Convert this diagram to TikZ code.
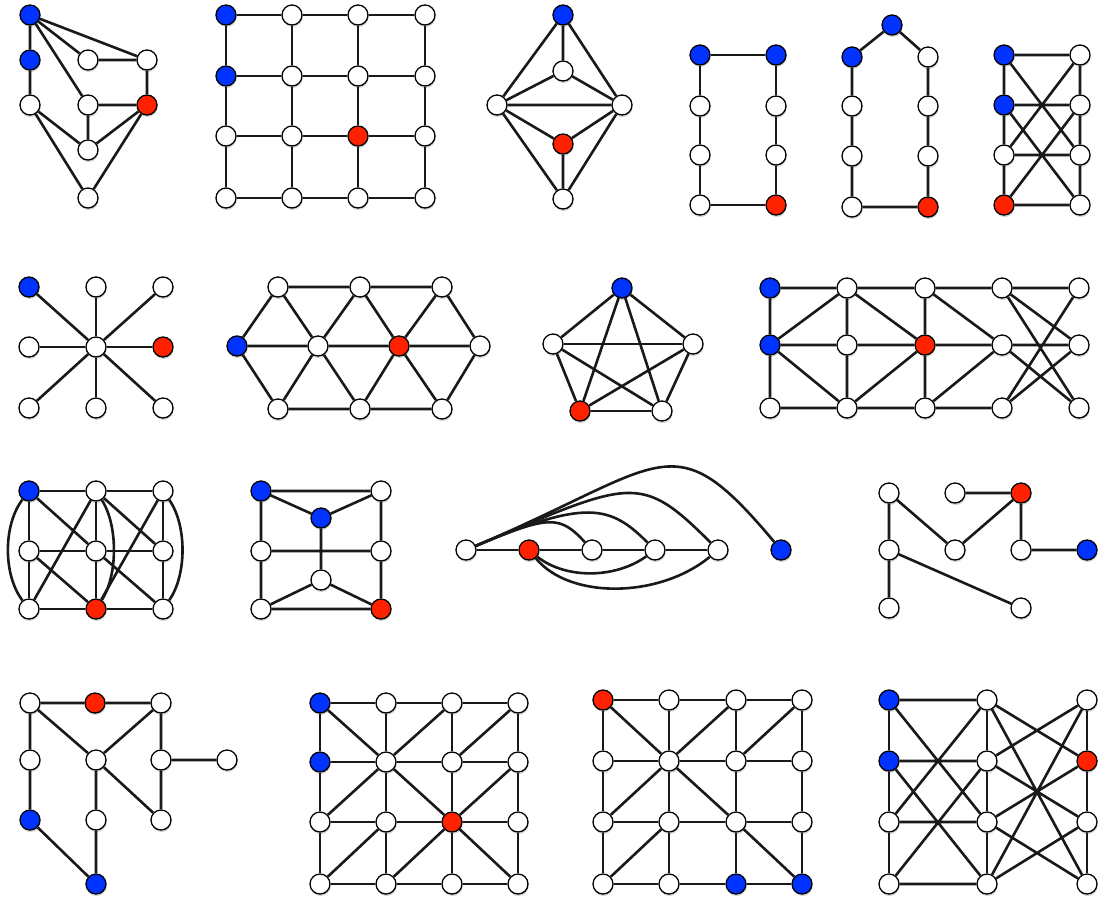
\documentclass[tikz,border=0pt]{standalone}
\usetikzlibrary{shadows}
\definecolor{vblue}{RGB}{0,51,255}
\definecolor{vred}{RGB}{255,34,0}

\begin{document}
\begin{tikzpicture}[
x=1pt,y=-1pt,
myvertex/.style={
  draw,
  circle,
  fill=white,
  line width=1.3pt,
  minimum size=20pt,
  inner sep=0pt,
  drop shadow={opacity=.35,shadow xshift=.6pt,shadow yshift=-2pt}},
myedge/.style={
  line width=2.6pt,
  black!90},
% coloured vertices of the grid-like graphs
b11/.style={fill=vblue},b12/.style={fill=vblue},b33/.style={fill=vred},
m11/.style={fill=vblue},m12/.style={fill=vblue},m32/.style={fill=vred},
n11/.style={fill=vblue},n23/.style={fill=vred},
t11/.style={fill=vblue},t12/.style={fill=vblue},t33/.style={fill=vred},
u11/.style={fill=vred},u34/.style={fill=vblue},u44/.style={fill=vblue},
v11/.style={fill=vblue},v12/.style={fill=vblue},v32/.style={fill=vred}
]
\useasboundingbox (0,0) rectangle (1102,897);

% first row
\foreach \n/\x/\y/\c in {1/30/15/vblue,2/30/60/vblue,3/30/105/white,
  4/88/60/white,5/88/105/white,6/147/60/white,7/147/105/vred,
  8/88/150/white,9/88/198/white}
  \node[myvertex,fill=\c] (a\n) at (\x,\y) {};
\draw[myedge] (a1) -- (a2) -- (a3) (a1) -- (a6) (a1) -- (a4) (a1) -- (a5)
  (a4) -- (a6) -- (a7) -- (a5) -- (a8) -- (a3) -- (a9) -- (a7) -- (a8);

\foreach \i/\x in {1/226,2/292,3/358,4/425}
  \foreach \j/\y in {1/15,2/76,3/136,4/198}
    \node[myvertex,b\i\j/.try] (b\i\j) at (\x,\y) {};
\foreach \i [evaluate=\i as \k using int(\i+1)] in {1,2,3}
  \foreach \j in {1,...,4}
    \draw[myedge] (b\i\j) -- (b\k\j) (b\j\i) -- (b\j\k);

\foreach \n/\x/\y/\c in {1/563/15/vblue,2/563/71/white,3/497/105/white,
  4/622/105/white,5/563/144/vred,6/563/199/white}
  \node[myvertex,fill=\c] (c\n) at (\x,\y) {};
\draw[myedge] (c1) -- (c2) (c1) -- (c3) -- (c4) -- (c1) (c2) -- (c3) -- (c5)
  -- (c4) -- (c2) (c5) -- (c6) -- (c3) (c4) -- (c6);

\foreach \n/\x/\y/\c in {1/700/55/vblue,2/700/106/white,3/700/155/white,
  4/700/205/white,5/776/205/vred,6/776/155/white,7/776/106/white,8/776/55/vblue}
  \node[myvertex,fill=\c] (d\n) at (\x,\y) {};
\draw[myedge] (d1) -- (d2) -- (d3) -- (d4) -- (d5) -- (d6) -- (d7) -- (d8) -- (d1);

\foreach \n/\x/\y/\c in {1/892/25/vblue,2/852/57/vblue,3/852/106/white,
  4/852/156/white,5/852/207/white,6/928/207/vred,7/928/156/white,
  8/928/106/white,9/928/57/white}
  \node[myvertex,fill=\c] (e\n) at (\x,\y) {};
\draw[myedge] (e1) -- (e2) -- (e3) -- (e4) -- (e5) -- (e6) -- (e7) -- (e8)
  -- (e9) -- (e1);

\foreach \n/\x/\y/\c in {1/1004/55/vblue,2/1004/105/vblue,3/1004/155/white,
  4/1004/205/vred,5/1080/55/white,6/1080/105/white,7/1080/155/white,
  8/1080/205/white}
  \node[myvertex,fill=\c] (f\n) at (\x,\y) {};
\draw[myedge] (f1) -- (f2) -- (f3) -- (f4) -- (f8) -- (f7) -- (f6) -- (f5)
  -- (f1) (f2) -- (f6) (f3) -- (f7) (f1) -- (f7) (f2) -- (f8) (f3) -- (f5)
  (f4) -- (f6);

% second row
\node[myvertex] (g0) at (96,347) {};
\foreach \n/\x/\y/\c in {1/29/287/vblue,2/96/287/white,3/163/287/white,
  4/29/347/white,5/163/347/vred,6/29/408/white,7/96/408/white,8/163/408/white}
  {\node[myvertex,fill=\c] (g\n) at (\x,\y) {};
   \draw[myedge] (g0) -- (g\n);}

\foreach \n/\x/\y/\c in {1/278/287/white,2/360/287/white,3/442/287/white,
  4/237/346/vblue,5/318/346/white,6/399/346/vred,7/480/346/white,
  8/278/409/white,9/360/409/white,10/442/409/white}
  \node[myvertex,fill=\c] (h\n) at (\x,\y) {};
\draw[myedge] (h1) -- (h2) -- (h3) -- (h7) -- (h10) -- (h9) -- (h8) -- (h4)
  -- (h1) (h4) -- (h5) -- (h6) -- (h7) (h1) -- (h5) -- (h2) -- (h6) -- (h3)
  (h8) -- (h5) -- (h9) -- (h6) -- (h10);

\foreach \n/\x/\y/\c in {1/622/288/vblue,2/693/344/white,3/662/411/white,
  4/580/411/vred,5/553/344/white}
  \node[myvertex,fill=\c] (k\n) at (\x,\y) {};
\foreach \a/\b in {1/2,1/3,1/4,1/5,2/3,2/4,2/5,3/4,3/5,4/5}
  \draw[myedge] (k\a) -- (k\b);

\foreach \i/\x in {1/770,2/847,3/925,4/1002,5/1079}
  \foreach \j/\y in {1/288,2/345,3/408}
    \node[myvertex,m\i\j/.try] (m\i\j) at (\x,\y) {};
\draw[myedge] (m11) -- (m21) -- (m31) -- (m41) -- (m51)
  (m12) -- (m22) -- (m32) -- (m42) -- (m52) (m13) -- (m23) -- (m33) -- (m43)
  (m11) -- (m12) -- (m13) (m21) -- (m22) -- (m23) (m31) -- (m32) -- (m33)
  (m12) -- (m21) -- (m32) -- (m23) -- (m12) (m31) -- (m42) -- (m33)
  (m41) -- (m52) -- (m43) -- (m51) (m41) -- (m53) -- (m42);

% third row
\foreach \i/\x in {1/29,2/96,3/163}
  \foreach \j/\y in {1/491,2/551,3/609}
    \node[myvertex,n\i\j/.try] (n\i\j) at (\x,\y) {};
\foreach \i [evaluate=\i as \k using int(\i+1)] in {1,2}
  \foreach \j in {1,2,3}
    \draw[myedge] (n\i\j) -- (n\k\j) (n\j\i) -- (n\j\k);
\draw[myedge] (n11) -- (n22) -- (n33) (n21) -- (n32) (n12) -- (n23) -- (n31)
  (n13) -- (n21);
\draw[myedge] (n11) .. controls (3,525) and (3,575) .. (n13);
\draw[myedge] (n21) .. controls (118,525) and (118,575) .. (n23);
\draw[myedge] (n31) .. controls (187,525) and (187,575) .. (n33);

\foreach \n/\x/\y/\c in {1/261/491/vblue,2/381/491/white,3/321/518/vblue,
  4/261/551/white,5/381/551/white,6/321/580/white,7/261/609/white,
  8/381/609/vred}
  \node[myvertex,fill=\c] (p\n) at (\x,\y) {};
\draw[myedge] (p1) -- (p2) -- (p5) -- (p8) -- (p7) -- (p4) -- (p1) -- (p3)
  -- (p2) (p4) -- (p5) (p3) -- (p6) (p7) -- (p6) -- (p8);

\foreach \n/\x/\y/\c in {1/466/550/white,2/529/550/vred,3/592/550/white,
  4/655/550/white,5/718/550/white,6/781/550/vblue}
  \node[myvertex,fill=\c] (q\n) at (\x,\y) {};
\draw[myedge] (q1) -- (q2) -- (q3) -- (q4) -- (q5);
\draw[myedge] (q1) .. controls (549,515) and (560,515) .. (q3);
\draw[myedge] (q1) .. controls (586,499) and (610,505) .. (q4);
\draw[myedge] (q1) .. controls (632,480) and (640,472) .. (q5);
\draw[myedge] (q1) .. controls (668,464) and (672,420) .. (q6);
\draw[myedge] (q2) .. controls (565,579) and (615,579) .. (q4);
\draw[myedge] (q2) .. controls (570,600) and (660,598) .. (q5);

\foreach \n/\x/\y/\c in {1/889/493/white,2/955/493/white,3/1021/493/vred,
  4/889/550/white,5/955/550/white,6/1021/550/white,7/1087/550/vblue,
  8/889/608/white,9/1021/608/white}
  \node[myvertex,fill=\c] (r\n) at (\x,\y) {};
\draw[myedge] (r8) -- (r4) -- (r1) -- (r5) -- (r3) -- (r2) (r3) -- (r6)
  -- (r7) (r4) -- (r9);

% fourth row
\foreach \n/\x/\y/\c in {1/30/703/white,2/95/703/vred,3/161/703/white,
  4/30/760/white,5/96/760/white,6/161/760/white,7/227/760/white,
  8/30/820/vblue,9/96/820/white,10/161/820/white,11/96/884/vblue}
  \node[myvertex,fill=\c] (s\n) at (\x,\y) {};
\draw[myedge] (s11) -- (s8) -- (s4) -- (s1) -- (s2) -- (s3) -- (s6) -- (s7)
  (s1) -- (s5) -- (s3) (s6) -- (s10) -- (s5) -- (s9) -- (s11);

\foreach \i/\x in {1/320,2/386,3/452,4/518}
  \foreach \j/\y in {1/703,2/762,3/822,4/884}
    \node[myvertex,t\i\j/.try] (t\i\j) at (\x,\y) {};
\foreach \i [evaluate=\i as \k using int(\i+1)] in {1,2,3}
  \foreach \j in {1,...,4}
    \draw[myedge] (t\i\j) -- (t\k\j) (t\j\i) -- (t\j\k);
\draw[myedge] (t11) -- (t22) -- (t31) (t32) -- (t41) (t13) -- (t22) -- (t33)
  -- (t42) (t23) -- (t14) (t24) -- (t33) -- (t44);

\foreach \i/\x in {1/603,2/669,3/736,4/802}
  \foreach \j/\y in {1/700,2/761,3/822,4/884}
    \node[myvertex,u\i\j/.try] (u\i\j) at (\x,\y) {};
\foreach \i [evaluate=\i as \k using int(\i+1)] in {1,2,3}
  \foreach \j in {1,...,4}
    \draw[myedge] (u\i\j) -- (u\k\j) (u\j\i) -- (u\j\k);
\draw[myedge] (u11) -- (u22) -- (u31) (u32) -- (u41) (u13) -- (u22) -- (u33)
  -- (u44) (u23) -- (u14);

\foreach \i/\x in {1/889,2/987,3/1087}
  \foreach \j/\y in {1/700,2/761,3/822,4/884}
    \node[myvertex,v\i\j/.try] (v\i\j) at (\x,\y) {};
\foreach \i in {1,2,3}
  \draw[myedge] (v\i1) -- (v\i2) -- (v\i3) -- (v\i4);
\draw[myedge] (v11) -- (v21) (v12) -- (v22) (v13) -- (v23) (v14) -- (v24)
  (v11) -- (v23) (v21) -- (v13) (v12) -- (v24) (v22) -- (v14)
  (v21) -- (v32) (v22) -- (v31) (v21) -- (v34) (v24) -- (v31)
  (v22) -- (v33) (v23) -- (v32) (v23) -- (v34) (v24) -- (v33);
\end{tikzpicture}
\end{document}
